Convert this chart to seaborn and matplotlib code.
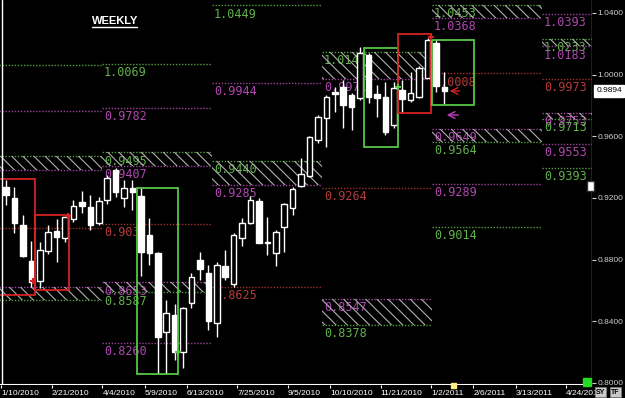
import matplotlib
matplotlib.use("Agg")
import matplotlib.pyplot as plt
import seaborn as sns
import pandas as pd
from matplotlib import font_manager
from matplotlib.patches import Rectangle

# ---------------- data ----------------
# weekly candles, index 0 = week of 1/10/2010
opens = [0.9271, 0.9200, 0.9025, 0.8791, 0.8661, 0.8856, 0.8986, 0.8940, 0.9064, 0.9174,
         0.9141, 0.9038, 0.9187, 0.9381, 0.9200, 0.9265, 0.9213, 0.8960, 0.8843, 0.8331,
         0.8441, 0.8201, 0.8519, 0.8798, 0.8713, 0.8389, 0.8759, 0.8642, 0.8940, 0.9038,
         0.9180, 0.8914, 0.8843, 0.9012, 0.9135, 0.9278, 0.9342, 0.9576, 0.9719, 0.9887,
         0.9920, 0.9868, 0.9848, 1.0127, 0.9874, 0.9855, 0.9673, 0.9900, 0.9835, 0.9855,
         0.9978, 1.0205, 0.9920]
highs = [0.9316, 0.9271, 0.9089, 0.8921, 0.8914, 0.9025, 0.9064, 0.9083, 0.9187, 0.9245,
         0.9219, 0.9206, 0.9349, 0.9394, 0.9316, 0.9316, 0.9265, 0.9070, 0.8850, 0.8538,
         0.8512, 0.8493, 0.8713, 0.8850, 0.8765, 0.8785, 0.8863, 0.8973, 0.9070, 0.9213,
         0.9200, 0.9077, 0.8992, 0.9167, 0.9271, 0.9459, 0.9602, 0.9738, 0.9868, 0.9920,
         0.9965, 0.9881, 1.0179, 1.0140, 0.9933, 0.9952, 0.9952, 0.9965, 1.0017, 1.0056,
         1.0237, 1.0224, 1.0017]
lows = [0.9154, 0.8973, 0.8820, 0.8623, 0.8616, 0.8837, 0.8785, 0.8914, 0.9044, 0.9102,
        0.8992, 0.9025, 0.9161, 0.9206, 0.9141, 0.9122, 0.8694, 0.8765, 0.8058, 0.8058,
        0.8149, 0.8097, 0.8486, 0.8668, 0.8344, 0.8298, 0.8668, 0.8623, 0.8888, 0.9031,
        0.8905, 0.8830, 0.8759, 0.8850, 0.9089, 0.9271, 0.9336, 0.9556, 0.9530, 0.9757,
        0.9654, 0.9641, 0.9835, 0.9816, 0.9725, 0.9608, 0.9654, 0.9751, 0.9822, 0.9850,
        0.9975, 0.9887, 0.9809]
closes = [0.9219, 0.9038, 0.8824, 0.8655, 0.8863, 0.8979, 0.8947, 0.9077, 0.9148, 0.9148,
          0.9025, 0.9180, 0.9329, 0.9239, 0.9265, 0.9239, 0.8850, 0.8843, 0.8298, 0.8454,
          0.8201, 0.8486, 0.8687, 0.8739, 0.8402, 0.8765, 0.8687, 0.8960, 0.9038, 0.9187,
          0.8908, 0.8911, 0.8979, 0.9161, 0.9258, 0.9355, 0.9595, 0.9725, 0.9855, 0.9877,
          0.9803, 0.9790, 1.0140, 0.9855, 0.9848, 0.9628, 0.9913, 0.9842, 0.9881, 1.0043,
          1.0224, 0.9926, 0.9894]

date_labels = ["1/10/2010", "2/21/2010", "4/4/2010", "5/9/2010", "6/13/2010", "7/25/2010",
               "9/5/2010", "10/10/2010", "11/21/2010", "1/2/2011", "2/6/2011", "3/13/2011",
               "4/24/2011"]
date_weeks = [0, 6, 12, 17, 22, 28, 34, 39, 45, 51, 56, 61, 67]

y_ticks = [0.80, 0.84, 0.88, 0.92, 0.96, 1.00, 1.04]
last_price = 0.9894

# quarterly pivot levels
seg_edges = [-2.0, 11.39, 24.44, 37.49, 50.53, 63.58, 76.6]
level_seg = [0, 0, 0, 0, 0, 0, 0,
             1, 1, 1, 1, 1, 1, 1, 1,
             2, 2, 2, 2, 2,
             3, 3, 3, 3, 3,
             4, 4, 4, 4, 4, 4, 4,
             5, 5, 5, 5, 5, 5, 5, 5]
level_value = [1.0062, 0.9764, 0.9472, 0.9381, 0.9005, 0.8623, 0.8538,
               1.0069, 0.9782, 0.9495, 0.9407, 0.9031, 0.8653, 0.8587, 0.8260,
               1.0449, 0.9944, 0.9440, 0.9285, 0.8625,
               1.0145, 0.9971, 0.9264, 0.8547, 0.8378,
               1.0453, 1.0368, 1.0008, 0.9649, 0.9564, 0.9289, 0.9014,
               1.0393, 1.0233, 1.0183, 0.9973, 0.9753, 0.9713, 0.9553, 0.9393]
level_kind = ["g", "p", "g", "p", "r", "p", "g",
              "g", "p", "g", "p", "r", "p", "g", "p",
              "g", "p", "g", "p", "r",
              "g", "p", "r", "p", "g",
              "g", "p", "r", "p", "g", "p", "g",
              "p", "g", "p", "r", "p", "g", "p", "g"]
level_labelled = [False] * 7 + [True] * 33

zone_seg = [0, 0, 1, 1, 2, 3, 3, 4, 4, 5, 5]
zone_top = [0.9472, 0.8623, 0.9495, 0.8653, 0.9440, 1.0145, 0.8547, 1.0453, 0.9649, 1.0233, 0.9753]
zone_bottom = [0.9381, 0.8538, 0.9407, 0.8587, 0.9285, 0.9971, 0.8378, 1.0368, 0.9564, 1.0183, 0.9713]

box_start = [-0.9, 3.44, 15.54, 42.50, 46.54, 50.57]
box_end = [3.44, 7.47, 20.40, 46.46, 50.42, 55.52]
box_top = [0.9323, 0.9089, 0.9267, 1.0174, 1.0261, 1.0224]
box_bottom = [0.8571, 0.8603, 0.8058, 0.9532, 0.9749, 0.9803]
box_kind = ["r", "r", "g", "g", "r", "g"]

mark_week = [3.2, 7.4, 50.4, 20.4, 46.5]
mark_price = [0.8661, 0.9083, 1.0244, 0.8201, 0.9920]
mark_kind = ["r", "r", "r", "g", "g"]

# ---------------- style ----------------
sns.set_theme(style="dark", rc={"axes.facecolor": "black", "figure.facecolor": "black",
                                "axes.grid": False, "hatch.linewidth": 0.8})
avail = {f.name for f in font_manager.fontManager.ttflist}
narrow = "Liberation Sans Narrow" if "Liberation Sans Narrow" in avail else "Liberation Sans"
plt.rcParams["font.family"] = ["DejaVu Sans"]

line_col = {"g": "#4f9e3f", "p": "#a040a0", "r": "#a03030"}
text_col = {"g": "#62b24c", "p": "#b048b0", "r": "#b83a3a"}
box_col = {"r": "#d42222", "g": "#55c845"}

df = pd.DataFrame({"open": opens, "high": highs, "low": lows, "close": closes})
df["week"] = range(len(df))
df["up"] = df["close"] >= df["open"]

fig = plt.figure(figsize=(6.25, 3.98), dpi=100)
ax = fig.add_axes([0, 13 / 398, 592 / 625, 385 / 398])
ax.set_facecolor("black")
ax.set_xlim(-0.712, 69.51)
ax.set_ylim(0.7987, 1.0484)

# pivot level lines + labels
for s, v, k, lab in zip(level_seg, level_value, level_kind, level_labelled):
    x0, x1 = seg_edges[s], seg_edges[s + 1]
    ax.plot([x0, x1], [v, v], color=line_col[k], lw=1.0, ls=(0, (1, 1.2)), zorder=1)
    if lab:
        ax.annotate(f"{v:.4f}", xy=(x0, v), xytext=(1.3, -1.6), textcoords="offset points",
                    ha="left", va="top", color=text_col[k], fontsize=8.5,
                    family="DejaVu Sans Mono", zorder=1.5, annotation_clip=False)

# hatched zones
for s, t, b in zip(zone_seg, zone_top, zone_bottom):
    x0, x1 = seg_edges[s], seg_edges[s + 1]
    ax.add_patch(Rectangle((x0, b), x1 - x0, t - b, fill=False, hatch="\\\\\\",
                           edgecolor="#b0b0b0", lw=0, zorder=2))

# candles
sns.despine(ax=ax, left=True, right=True, top=True, bottom=True)
ax.vlines(df["week"], df["low"], df["high"], color="white", lw=1.0, zorder=3)
body_bottom = df[["open", "close"]].min(axis=1)
body_h = (df["close"] - df["open"]).abs().clip(lower=0.0004)
ax.bar(df["week"], body_h, bottom=body_bottom, width=0.66,
       color=["black" if u else "white" for u in df["up"]],
       edgecolor="white", linewidth=1.0, zorder=4)

# boxes
for x0, x1, t, b, k in zip(box_start, box_end, box_top, box_bottom, box_kind):
    ax.add_patch(Rectangle((x0, b), x1 - x0, t - b, fill=False, edgecolor=box_col[k],
                           lw=1.3, zorder=5))
for w, p, k in zip(mark_week, mark_price, mark_kind):
    ax.plot(w, p, marker="+", ms=5, mew=1.5, color=box_col[k], zorder=6)

# arrows
ax.annotate("", xy=(52.3, 0.9894), xytext=(54.1, 0.9894),
            arrowprops=dict(arrowstyle="->", color="#d42222", lw=1.0), zorder=6)
ax.annotate("", xy=(51.95, 0.9738), xytext=(54.0, 0.9738),
            arrowprops=dict(arrowstyle="->", color="#c040c0", lw=1.0), zorder=6)

# borders
ax.axvline(-0.42, color="white", lw=1.0, zorder=7)
ax.axhline(0.7987, color="white", lw=1.5, zorder=7)
ax.axvline(69.5, color="#9a9a9a", lw=1.0, zorder=7)

# y axis (right)
ax.yaxis.tick_right()
ax.set_yticks(y_ticks)
ax.set_yticklabels([f"{v:.4f}" for v in y_ticks])
ax.tick_params(axis="y", colors="#cfcfcf", labelsize=6.0, length=3, width=0.8, pad=1,
               right=True, labelright=True, left=False, labelleft=False, direction="out")
for t in ax.get_yticklabels():
    t.set_family(narrow)
ax.annotate(f"{last_price:.4f}", xy=(1.0, last_price), xycoords=("axes fraction", "data"),
            xytext=(3.0, 0), textcoords="offset points", ha="left", va="center",
            fontsize=6.0, family=narrow, color="black",
            bbox=dict(boxstyle="square,pad=0.3", fc="white", ec="white"),
            annotation_clip=False, zorder=8)

# x axis
ax.set_xticks([w - 0.56 for w in date_weeks])
ax.set_xticklabels(date_labels)
ax.tick_params(axis="x", colors="white", labelsize=6.0, length=2, width=0.8, pad=1.5,
               bottom=True, direction="out")
for t in ax.get_xticklabels():
    t.set_family(narrow)
    t.set_ha("left")

# title text
fig.text(92 / 625, 1 - 21 / 398, "WEEKLY", color="white", fontsize=8, fontweight="bold",
         family="Liberation Sans", ha="left", va="center")
fig.add_artist(plt.Line2D([92 / 625, 137 / 625], [1 - 27 / 398, 1 - 27 / 398],
                          color="white", lw=1.0))

# small ui widgets
fig.add_artist(Rectangle((583 / 625, 1 - 386 / 398), 8 / 625, 8 / 398, color="#22dd22",
                         transform=fig.transFigure))
fig.add_artist(Rectangle((451 / 625, 1 - 388 / 398), 5 / 625, 5 / 398, color="#ffee88",
                         transform=fig.transFigure))
fig.add_artist(Rectangle((587 / 625, 1 - 191 / 398), 7 / 625, 10 / 398, fc="white",
                         ec="#333333", transform=fig.transFigure))
for xp, s in [(596, "SY"), (611, "TF")]:
    fig.text(xp / 625, 1 - 392 / 398, s, fontsize=5, color="black", family=narrow,
             fontweight="bold", ha="left", va="center",
             bbox=dict(boxstyle="square,pad=0.15", fc="#c8c8c8", ec="#808080", lw=0.5))

fig.savefig("out.png", dpi=100, facecolor="black")
